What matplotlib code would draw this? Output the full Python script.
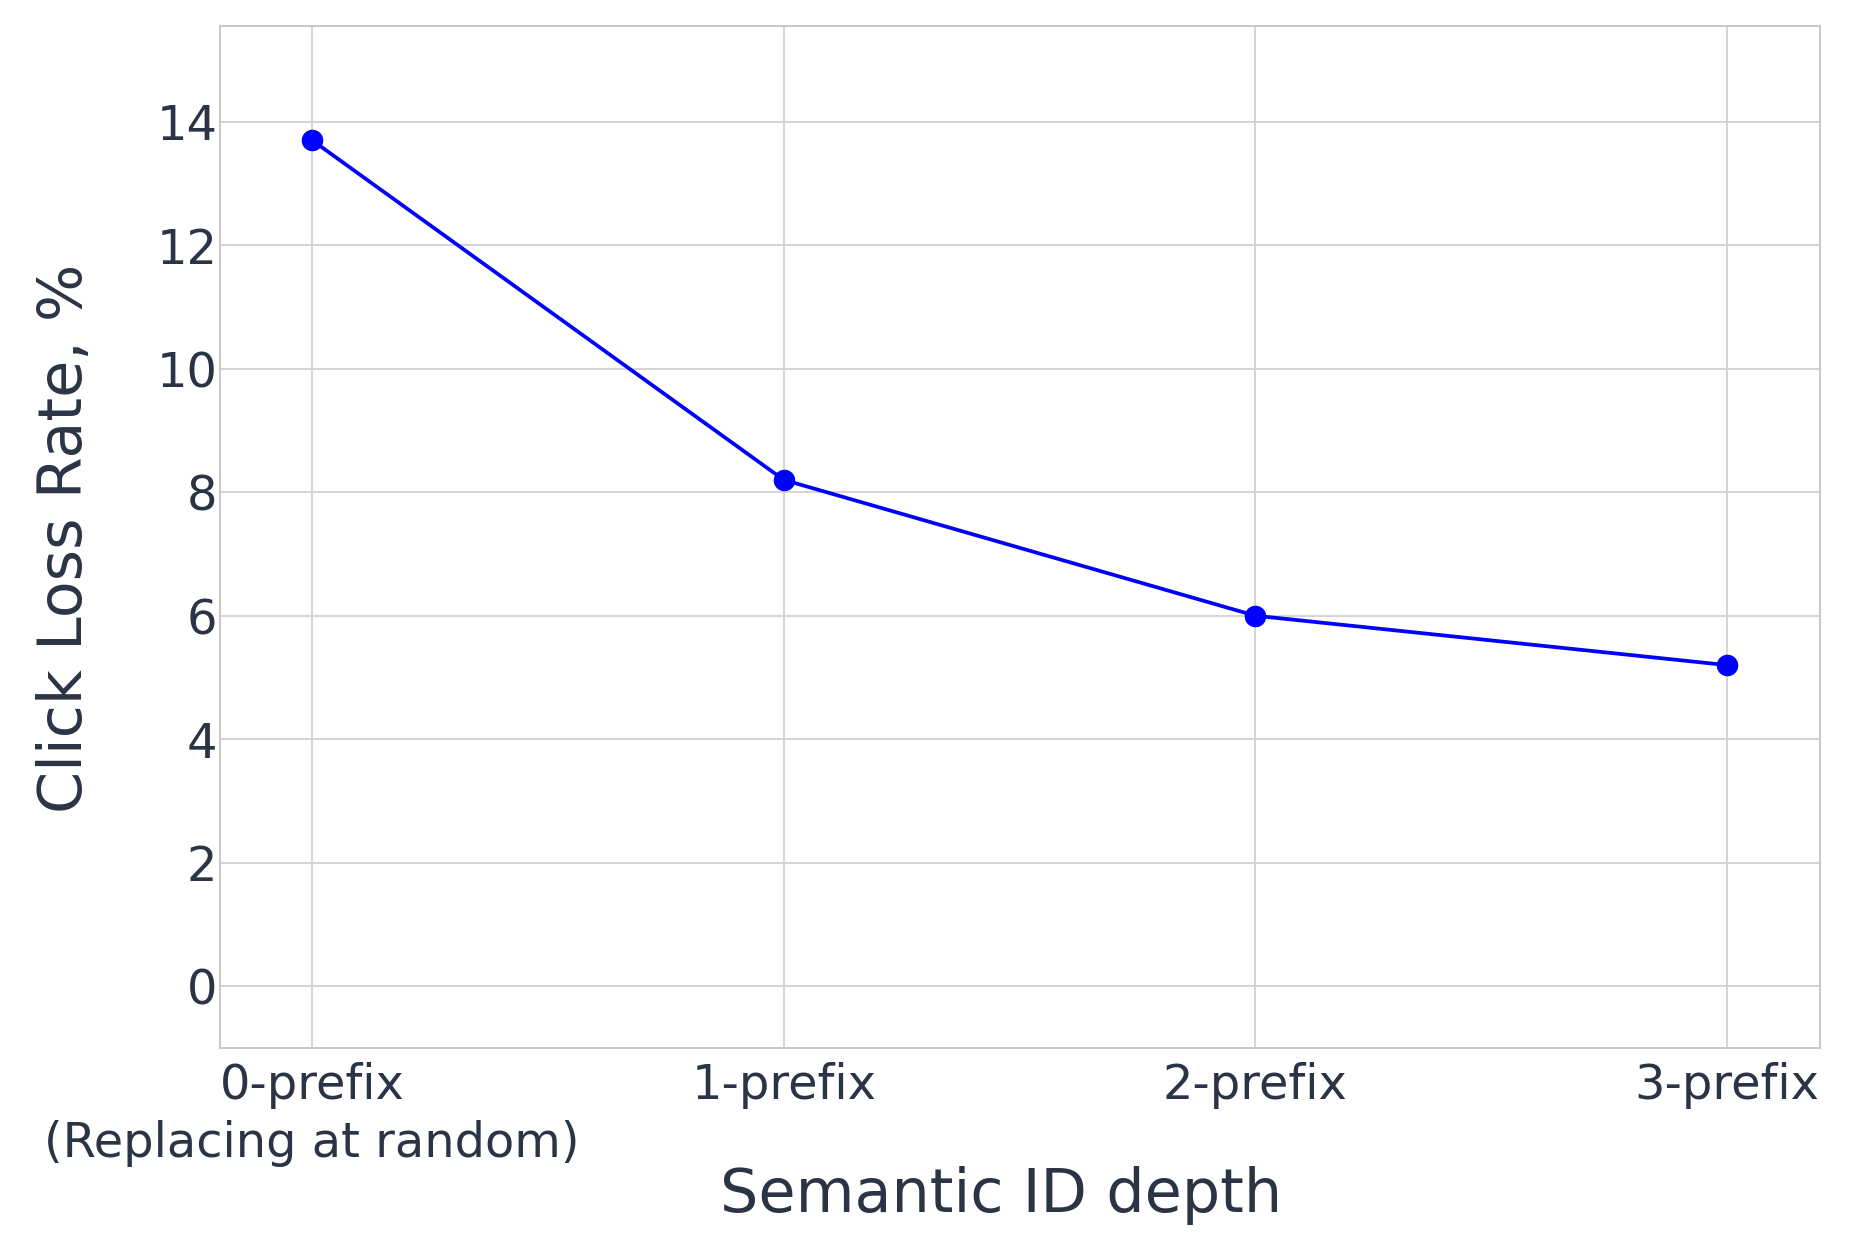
import matplotlib
matplotlib.use("Agg")
import matplotlib.pyplot as plt

depth_labels = ["0-prefix\n(Replacing at random)", "1-prefix", "2-prefix", "3-prefix"]
click_loss_rate = [13.7, 8.2, 6.0, 5.2]
y_ticks = [0, 2, 4, 6, 8, 10, 12, 14]

text_color = "#2b3445"
plt.rcParams["font.family"] = ["DejaVu Sans"]

fig = plt.figure(figsize=(18.68, 12.34), dpi=100)
ax = fig.add_axes([0.1178, 0.1507, 0.8565, 0.8283])

x = list(range(len(click_loss_rate)))
ax.plot(x, click_loss_rate, color="#0000ff", linewidth=2.7,
        marker="o", markersize=14.5, zorder=3)

ax.set_xlim(-0.195, 3.197)
ax.set_ylim(-1.0, 15.55)
ax.set_xticks(x)
ax.set_xticklabels(depth_labels, linespacing=1.3)
ax.set_yticks(y_ticks)

ax.grid(True, color="#d4d4d4", linewidth=1.4)
ax.set_axisbelow(True)
for side in ax.spines.values():
    side.set_color("#c8c8c8")
    side.set_linewidth(1.4)

ax.tick_params(axis="both", length=0, labelsize=34.5, labelcolor=text_color)
ax.tick_params(axis="x", pad=10)
ax.tick_params(axis="y", pad=2)

fig.text(0.536, 0.0316, "Semantic ID depth", fontsize=43.5, color=text_color,
         ha="center", va="center")
fig.text(0.0353, 0.564, "Click Loss Rate, %", fontsize=43.5, color=text_color,
         rotation=90, ha="center", va="center")

fig.savefig("out.png", dpi=100)
